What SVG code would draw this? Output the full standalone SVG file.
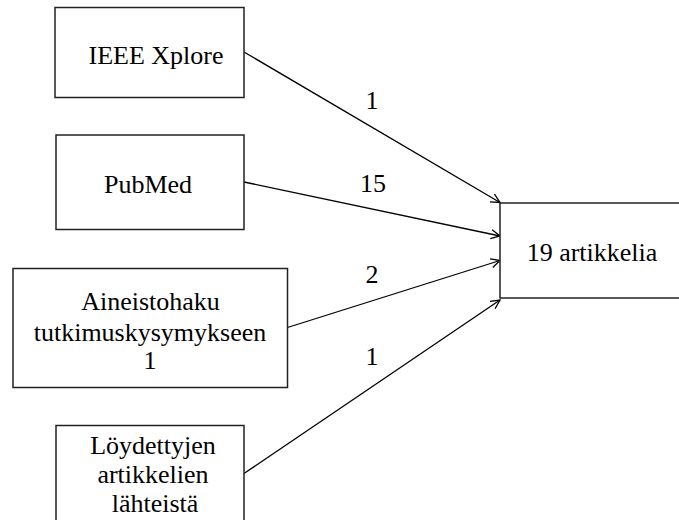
<svg xmlns="http://www.w3.org/2000/svg" width="679" height="520" viewBox="0 0 679 520">
  <defs>
    <marker id="arr" markerWidth="12" markerHeight="12" refX="10" refY="6" orient="auto" markerUnits="userSpaceOnUse">
      <path d="M1,1.5 L10,6 L1,10.5" fill="none" stroke="#000" stroke-width="1.3"/>
    </marker>
  </defs>
  <style>
    .box { fill: #fff; stroke: #222; stroke-width: 1.5; }
    .t { font-family: "Liberation Serif", "Times New Roman", serif; font-size: 26px; fill: #000; text-anchor: middle; }
    .edge { fill: none; stroke: #000; stroke-width: 1.3; marker-end: url(#arr); }
  </style>
  <rect width="679" height="520" fill="#fff"/>
  <g id="connectors">
    <line class="edge" x1="244" y1="52" x2="500" y2="202.5"/>
    <line class="edge" x1="244" y1="182" x2="500" y2="236"/>
    <line class="edge" x1="287.5" y1="327.5" x2="500" y2="260.5"/>
    <line class="edge" x1="244" y1="473.5" x2="500" y2="300"/>
    <text class="t" x="372" y="108.5">1</text>
    <text class="t" x="373" y="192">15</text>
    <text class="t" x="372" y="283">2</text>
    <text class="t" x="372" y="365">1</text>
  </g>
  <g id="ieee">
    <rect class="box" x="55" y="7.5" width="189" height="90"/>
    <text class="t" x="156" y="63.5">IEEE Xplore</text>
  </g>
  <g id="pubmed">
    <rect class="box" x="56" y="135" width="188" height="94.5"/>
    <text class="t" x="148" y="193">PubMed</text>
  </g>
  <g id="aineistohaku">
    <rect class="box" x="13" y="268.5" width="274.5" height="119"/>
    <text class="t" x="150.5" y="309.5">Aineistohaku</text>
    <text class="t" x="150" y="340.5">tutkimuskysymykseen</text>
    <text class="t" x="150" y="369">1</text>
  </g>
  <g id="loydettyjen">
    <rect class="box" x="56" y="425.5" width="188" height="100"/>
    <text class="t" x="153" y="453.5">Löydettyjen</text>
    <text class="t" x="153" y="483">artikkelien</text>
    <text class="t" x="155" y="512">lähteistä</text>
  </g>
  <g id="artikkelia">
    <rect class="box" x="500" y="203" width="200" height="95"/>
    <text class="t" x="592" y="261">19 artikkelia</text>
  </g>
</svg>
